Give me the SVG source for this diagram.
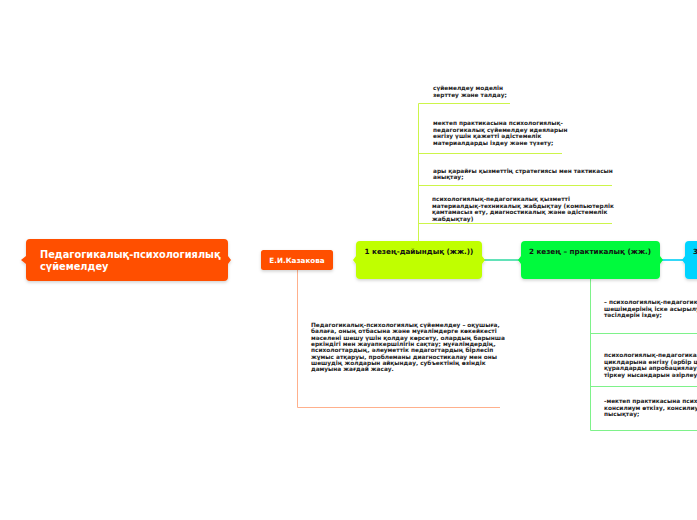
<svg xmlns="http://www.w3.org/2000/svg" width="697" height="520" viewBox="0 0 697 520">
<defs>
<style>
.t{font-family:"DejaVu Sans",Verdana,sans-serif;font-weight:bold}
.s{font-family:"DejaVu Sans",Verdana,sans-serif;font-weight:bold;font-size:5.8px;fill:#222}
.lime{stroke:#CDF54A;stroke-width:1;fill:none}
.grn{stroke:#7EF28A;stroke-width:1;fill:none}
.peach{stroke:#FFB08C;stroke-width:1;fill:none}
</style>
<filter id="sh" x="-10%" y="-20%" width="120%" height="150%">
<feDropShadow dx="0" dy="1.5" stdDeviation="1.5" flood-color="#000" flood-opacity="0.18"/>
</filter>
<linearGradient id="g1" x1="0" x2="1" y1="0" y2="0"><stop offset="0" stop-color="#FF6A10"/><stop offset="1" stop-color="#F08A30"/></linearGradient>
<linearGradient id="g2" x1="0" x2="1" y1="0" y2="0"><stop offset="0" stop-color="#F07A20"/><stop offset="1" stop-color="#A6F000"/></linearGradient>
</defs>
<rect width="697" height="520" fill="#fff"/>

<g id="connectors" stroke-width="1.6" fill="none">
<line x1="228" y1="260" x2="261" y2="260" stroke="url(#g1)"/>
<line x1="333" y1="260" x2="356" y2="260" stroke="url(#g2)"/>
<line x1="482" y1="260" x2="521" y2="260" stroke="#2ED9A0"/>
<line x1="660" y1="260" x2="685" y2="260" stroke="#00CFF5"/>
<path class="peach" d="M297.5 270 V407.5 H500"/>
<path class="lime" d="M418.5 241 V103.5 H510 M418.5 153.5 H562 M418.5 185.5 H612 M418.5 223.5 H612"/>
<path class="grn" d="M590.5 279 V430.5 H697 M590.5 333.5 H697 M590.5 386.5 H697"/>
</g>

<g id="root">
<path d="M30 239 H224 a4 4 0 0 1 4 4 V256 l3 4 l-3 4 V277 a4 4 0 0 1 -4 4 H30 a4 4 0 0 1 -4 -4 V264 l-5 -4 l5 -4 V243 a4 4 0 0 1 4 -4z" fill="#FF5000" filter="url(#sh)"/>
<text class="t" font-size="9.8" fill="#fff"><tspan x="40" y="258">Педагогикалық-психологиялық</tspan><tspan x="40" y="270">сүйемелдеу</tspan></text>
</g>

<g id="kazakova">
<rect x="261" y="250" width="72" height="20" rx="2.5" fill="#FF5000" filter="url(#sh)"/>
<text class="t" x="297" y="263" font-size="7.2" fill="#fff" text-anchor="middle">Е.И.Казакова</text>
</g>

<g id="stage1">
<path d="M360 241 H478 a4 4 0 0 1 4 4 V256 l3 4 l-3 4 V275 a4 4 0 0 1 -4 4 H360 a4 4 0 0 1 -4 -4 V264 l-3 -4 l3 -4 V245 a4 4 0 0 1 4 -4z" fill="#C0FF00" filter="url(#sh)"/>
<text class="t" x="419" y="254" font-size="7.2" fill="#111" text-anchor="middle">1 кезең-дайындық (жж.))</text>
</g>

<g id="stage2">
<path d="M525 241 H656 a4 4 0 0 1 4 4 V256 l3 4 l-3 4 V275 a4 4 0 0 1 -4 4 H525 a4 4 0 0 1 -4 -4 V264 l-3 -4 l3 -4 V245 a4 4 0 0 1 4 -4z" fill="#00FA3C" filter="url(#sh)"/>
<text class="t" x="590" y="254" font-size="7.2" fill="#111" text-anchor="middle">2 кезең – практикалық (жж.)</text>
</g>

<g id="stage3">
<path d="M689 241 H710 V279 H689 a4 4 0 0 1 -4 -4 V264 l-3 -4 l3 -4 V245 a4 4 0 0 1 4 -4z" fill="#00D4FF" filter="url(#sh)"/>
<text class="t" x="693" y="254" font-size="7.2" fill="#111">3</text>
</g>

<g id="s1-items">
<text class="s"><tspan x="433" y="90">сүйемелдеу моделін</tspan><tspan x="433" y="96.5">зерттеу және талдау;</tspan></text>
<text class="s"><tspan x="433" y="125">мектеп практикасына психологиялық-</tspan><tspan x="433" y="131.5">педагогикалық сүйемелдеу идеяларын</tspan><tspan x="433" y="138">енгізу үшін қажетті әдістемелік</tspan><tspan x="433" y="144.5">материалдарды іздеу және түзету;</tspan></text>
<text class="s"><tspan x="433" y="172.5"> ары қарайғы қызметтің стратегиясы мен тактикасын</tspan><tspan x="433" y="179">анықтау;</tspan></text>
<text class="s"><tspan x="432" y="201">психологиялық-педагогикалық қызметті</tspan><tspan x="432" y="207.5">материалдық-техникалық жабдықтау (компьютерлік</tspan><tspan x="432" y="214">қамтамасыз ету, диагностикалық және әдістемелік</tspan><tspan x="432" y="220.5">жабдықтау)</tspan></text>
</g>

<g id="definition">
<text class="s"><tspan x="311" y="327">Педагогикалық-психологиялық сүйемелдеу – оқушыға,</tspan><tspan x="311" y="333.3">балаға, оның отбасына және мұғалімдерге көкейкесті</tspan><tspan x="311" y="339.6">мәселені шешу үшін қолдау көрсету, олардың барынша</tspan><tspan x="311" y="345.9">еркіндігі мен жауапкершілігін сақтау; мұғалімдердің,</tspan><tspan x="311" y="352.2">психологтардың, әлеуметтік педагогтардың бірлесіп</tspan><tspan x="311" y="358.5">жұмыс атқаруы, проблеманы диагностикалау мен оны</tspan><tspan x="311" y="364.8">шешудің жолдарын айқындау, субъектінің өзіндік</tspan><tspan x="311" y="371.1">дамуына жағдай жасау.</tspan></text>
</g>

<g id="s2-items">
<text class="s"><tspan x="604" y="304">– психологиялық-педагогика</tspan><tspan x="604" y="310.5">шешімдерінің іске асырылуы</tspan><tspan x="604" y="317">тәсілдерін іздеу;</tspan></text>
<text class="s"><tspan x="604" y="357">психологиялық-педагогикал</tspan><tspan x="604" y="363.5">циклдарына енгізу (әрбір цик</tspan><tspan x="604" y="370">құралдарды апробациялау, іс</tspan><tspan x="604" y="376.5">тіркеу нысандарын әзірлеу)</tspan></text>
<text class="s"><tspan x="604" y="403">-мектеп практикасына психо</tspan><tspan x="604" y="409.5">консилиум өткізу, консилиум</tspan><tspan x="604" y="416">пысықтау;</tspan></text>
</g>
</svg>
